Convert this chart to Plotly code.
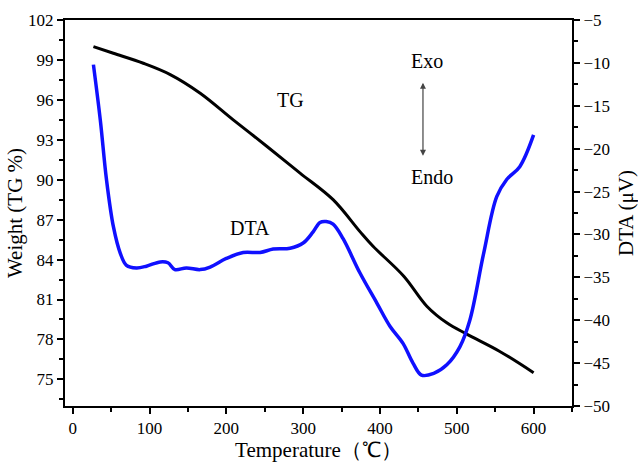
import plotly.graph_objects as go

# TG (weight %) curve
tg_temp = [27, 53, 92, 127, 166, 209, 253, 296, 339, 374, 391, 431, 461, 487, 513, 556, 600]
tg_weight = [100.0, 99.5, 98.75, 97.9, 96.5, 94.5, 92.5, 90.5, 88.5, 86.1, 85.0, 82.75, 80.5, 79.25, 78.4, 77.1, 75.5]

# DTA curve
dta_temp = [27, 36, 44, 53, 62, 70, 83, 96, 114, 124, 133, 148, 166, 179, 200, 222, 244, 261, 283,
            300, 313, 322, 330, 339, 352, 374, 396, 413, 430, 443, 454, 470, 487, 504, 517, 535, 552,
            565, 582, 600]
dta_uv = [-10.2, -16.7, -23.6, -29.1, -32.2, -33.6, -33.9, -33.7, -33.2, -33.3, -34.1, -33.9, -34.1,
          -33.8, -32.8, -32.1, -32.1, -31.7, -31.6, -31.0, -29.7, -28.6, -28.5, -28.8, -30.5, -34.5,
          -38.0, -40.7, -42.7, -45.0, -46.4, -46.2, -45.2, -43.1, -40.0, -32.2, -25.6, -23.6, -22.1,
          -18.4]

font_family = "Liberation Serif"
tick_size = 17
title_size = 21
label_size = 20

fig = go.Figure()
fig.add_trace(go.Scatter(x=tg_temp, y=tg_weight, mode="lines", line=dict(color="black", width=3, shape="spline"),
                         yaxis="y", showlegend=False))
fig.add_trace(go.Scatter(x=dta_temp, y=dta_uv, mode="lines", line=dict(color="#1010ff", width=3.5, shape="spline"),
                         yaxis="y2", showlegend=False))

axis_common = dict(showline=True, linecolor="black", linewidth=2, ticks="outside", tickcolor="black",
                   tickwidth=1.5, ticklen=6, showgrid=False, zeroline=False, automargin=False,
                   tickfont=dict(family=font_family, size=tick_size, color="black"))

fig.update_layout(
    width=638, height=465,
    margin=dict(l=65, r=66, t=20, b=59),
    paper_bgcolor="white", plot_bgcolor="white",
    font=dict(family=font_family, color="black"),
    xaxis=dict(range=[-10, 650], dtick=100, tick0=0, mirror=True,
               minor=dict(dtick=50, ticks="outside", ticklen=4, tickcolor="black"),
               title=dict(text="Temperature（℃）", font=dict(family=font_family, size=title_size), standoff=4),
               **axis_common),
    yaxis=dict(range=[73, 102], dtick=3, tick0=75,
               minor=dict(dtick=1.5, ticks="outside", ticklen=4, tickcolor="black"),
               title=dict(text="Weight (TG %)", font=dict(family=font_family, size=title_size), standoff=0),
               **axis_common),
    yaxis2=dict(range=[-50, -5], dtick=5, tick0=-50, overlaying="y", side="right",
                minor=dict(dtick=2.5, ticks="outside", ticklen=4, tickcolor="black"),
                title=dict(text="DTA (μV)", font=dict(family=font_family, size=title_size), standoff=12),
                **axis_common),
)

fig.add_annotation(x=284, y=96, xref="x", yref="y", text="TG", showarrow=False,
                   font=dict(family=font_family, size=label_size, color="black"))
fig.add_annotation(x=231, y=86.4, xref="x", yref="y", text="DTA", showarrow=False,
                   font=dict(family=font_family, size=label_size, color="black"))
fig.add_annotation(x=461, y=98.9, xref="x", yref="y", text="Exo", showarrow=False,
                   font=dict(family=font_family, size=label_size, color="black"))
fig.add_annotation(x=468, y=90.2, xref="x", yref="y", text="Endo", showarrow=False,
                   font=dict(family=font_family, size=label_size, color="black"))
fig.add_annotation(x=456, y=91.8, ax=456, ay=97.4, xref="x", yref="y", axref="x", ayref="y",
                   text="", showarrow=True, arrowhead=2, startarrowhead=2, arrowside="end+start",
                   arrowwidth=1.2, arrowsize=1, startarrowsize=1, arrowcolor="#444444")

fig.write_html("out.html")
